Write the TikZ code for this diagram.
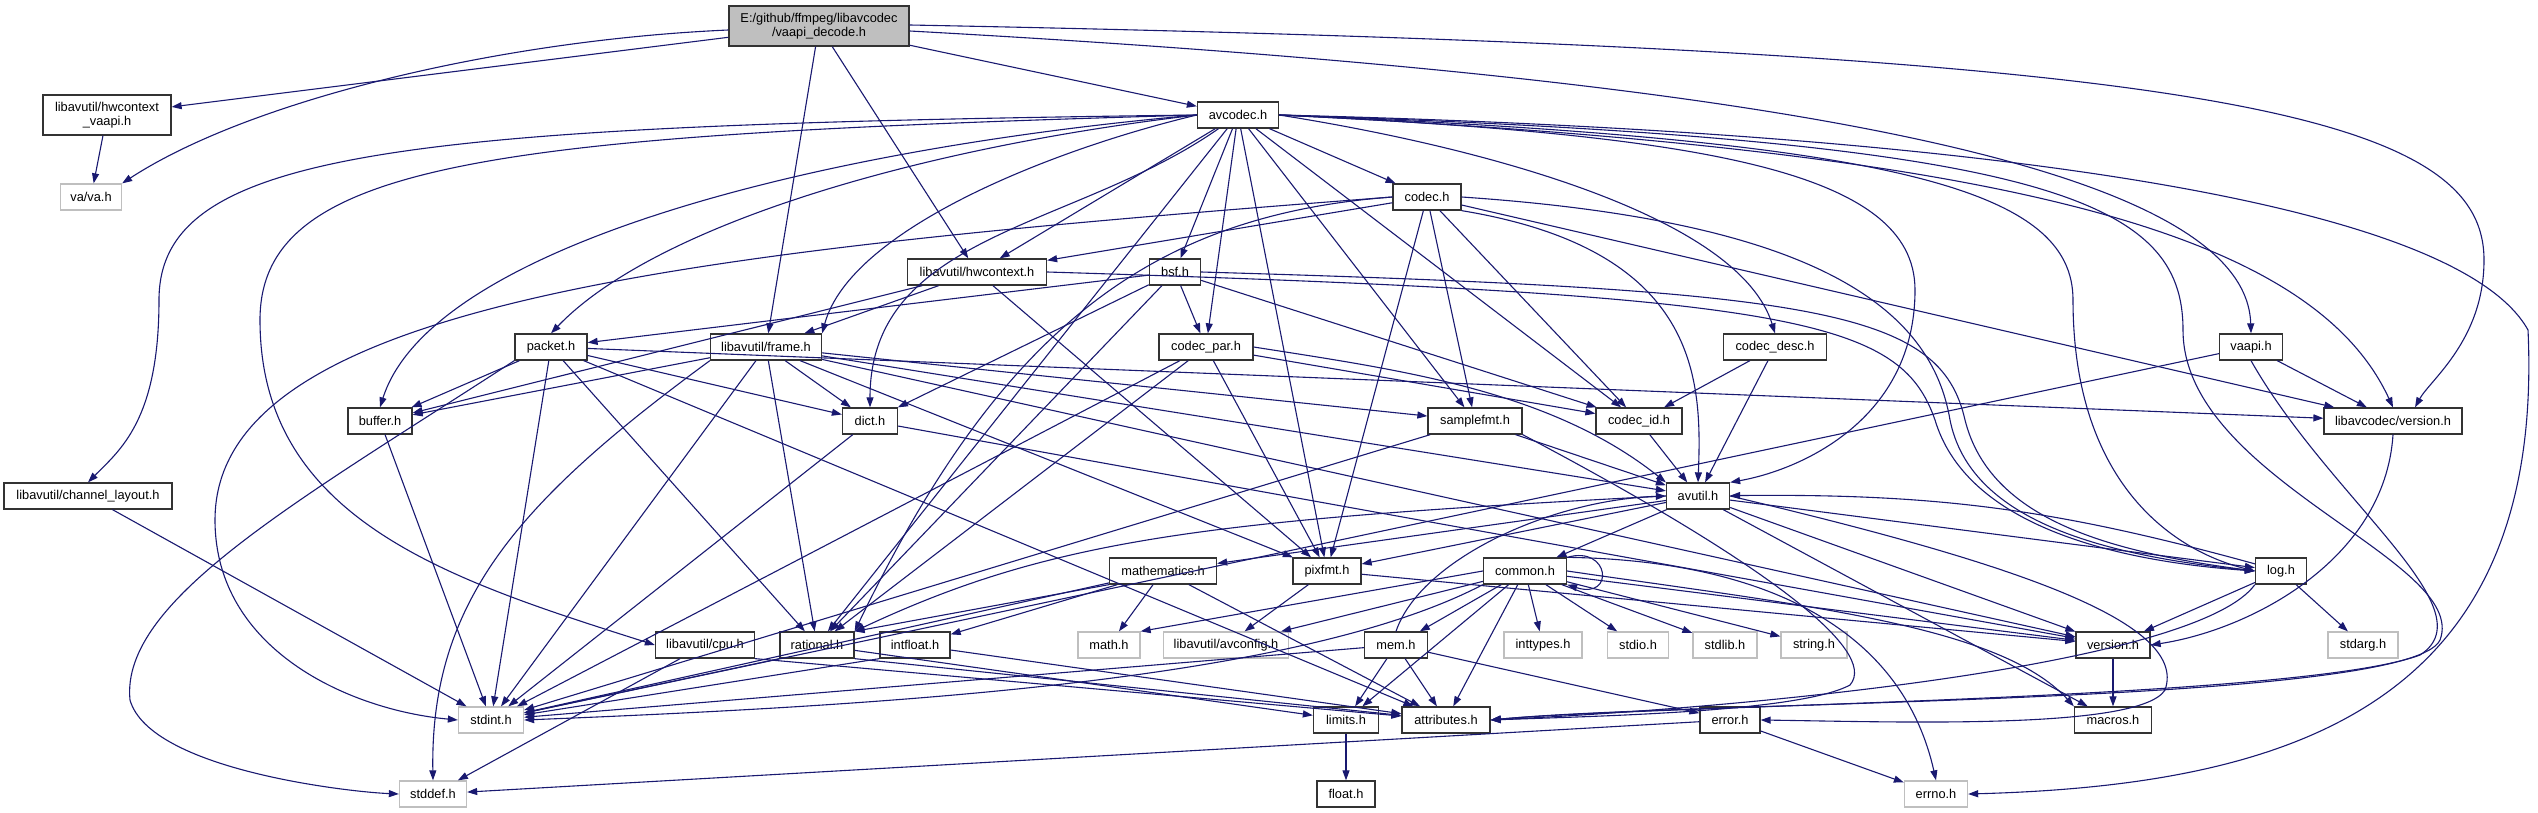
\documentclass[tikz,border=0pt]{standalone}
\usepackage{fontspec}
\setmainfont{Liberation Sans}
\usetikzlibrary{arrows.meta}
\definecolor{edgeblue}{HTML}{191970}
\definecolor{sysgray}{HTML}{BFBFBF}
\tikzset{
  hdrbox/.style={draw=black!80, line width=1.3pt, fill=white, inner sep=1pt,
    minimum height=26pt, font=\fontsize{12.8}{14.5}\selectfont},
  sysbox/.style={hdrbox, draw=sysgray},
  rootbox/.style={hdrbox, fill=sysgray, minimum height=40pt, align=center},
  dep/.style={edgeblue, line width=1.1pt, -{Triangle[length=10pt,width=7pt]}}
}
\begin{document}
\begin{tikzpicture}[x=1pt,y=-1pt]
\useasboundingbox (0,0) rectangle (2538,813);
% top rows
\node[rootbox, minimum width=180pt] (root) at (819,26) {E:/github/ffmpeg/libavcodec\\/vaapi\_decode.h};
\node[hdrbox, minimum width=128pt, minimum height=40pt, align=center] (hwvaapi) at (107,115) {libavutil/hwcontext\\\_vaapi.h};
\node[sysbox, minimum width=61pt] (vah) at (91,197) {va/va.h};
\node[hdrbox, minimum width=81pt] (avcodec) at (1238,115) {avcodec.h};
\node[hdrbox, minimum width=68pt] (codec) at (1427,197) {codec.h};
\node[hdrbox, minimum width=139pt] (hwctx) at (977,272) {libavutil/hwcontext.h};
\node[hdrbox, minimum width=51pt] (bsf) at (1175,272) {bsf.h};
\node[hdrbox, minimum width=72pt] (packet) at (551,347) {packet.h};
\node[hdrbox, minimum width=111pt] (frame) at (766,347) {libavutil/frame.h};
\node[hdrbox, minimum width=94pt] (codecpar) at (1206,347) {codec\_par.h};
\node[hdrbox, minimum width=103pt] (codecdesc) at (1775,347) {codec\_desc.h};
\node[hdrbox, minimum width=63pt] (vaapi) at (2251,347) {vaapi.h};
\node[hdrbox, minimum width=64pt] (buffer) at (380,421) {buffer.h};
\node[hdrbox, minimum width=55pt] (dict) at (870,421) {dict.h};
\node[hdrbox, minimum width=94pt] (samplefmt) at (1475,421) {samplefmt.h};
\node[hdrbox, minimum width=86pt] (codecid) at (1639,421) {codec\_id.h};
\node[hdrbox, minimum width=138pt] (lavcver) at (2393,421) {libavcodec/version.h};
\node[hdrbox, minimum width=168pt] (chlayout) at (88,496) {libavutil/channel\_layout.h};
\node[hdrbox, minimum width=63pt] (avutil) at (1698,496) {avutil.h};
% lower rows
\node[hdrbox, minimum width=107pt] (mathem) at (1163,571) {mathematics.h};
\node[hdrbox, minimum width=68pt] (pixfmt) at (1327,571) {pixfmt.h};
\node[hdrbox, minimum width=83pt] (common) at (1525,571) {common.h};
\node[hdrbox, minimum width=51pt] (logh) at (2281,571) {log.h};
\node[hdrbox, minimum width=99pt] (cpu) at (705,645) {libavutil/cpu.h};
\node[hdrbox, minimum width=74pt] (rational) at (817,645) {rational.h};
\node[hdrbox, minimum width=70pt] (intfloat) at (915,645) {intfloat.h};
\node[sysbox, minimum width=62pt] (mathh) at (1109,645) {math.h};
\node[sysbox, minimum width=125pt] (avconfig) at (1226,645) {libavutil/avconfig.h};
\node[hdrbox, minimum width=63pt] (mem) at (1396,645) {mem.h};
\node[sysbox, minimum width=78pt] (inttypes) at (1543,645) {inttypes.h};
\node[sysbox, minimum width=61pt] (stdioh) at (1638,645) {stdio.h};
\node[sysbox, minimum width=64pt] (stdlibh) at (1725,645) {stdlib.h};
\node[sysbox, minimum width=66pt] (stringh) at (1814,645) {string.h};
\node[hdrbox, minimum width=74pt] (version) at (2113,645) {version.h};
\node[sysbox, minimum width=70pt] (stdarg) at (2363,645) {stdarg.h};
\node[sysbox, minimum width=65pt] (stdint) at (491,720) {stdint.h};
\node[hdrbox, minimum width=65pt] (limits) at (1346,720) {limits.h};
\node[hdrbox, minimum width=88pt] (attributes) at (1446,720) {attributes.h};
\node[hdrbox, minimum width=60pt] (errorh) at (1730,720) {error.h};
\node[hdrbox, minimum width=77pt] (macros) at (2113,720) {macros.h};
\node[sysbox, minimum width=67pt] (stddef) at (433,794) {stddef.h};
\node[hdrbox, minimum width=58pt] (floath) at (1346,794) {float.h};
\node[sysbox, minimum width=63pt] (errno) at (1936,794) {errno.h};
% straight includes
\foreach \a/\b in {root/hwvaapi, root/frame, root/hwctx, root/avcodec, hwvaapi/vah,
  avcodec/samplefmt, avcodec/hwctx, avcodec/pixfmt, avcodec/rational, avcodec/bsf,
  avcodec/codec, avcodec/codecpar, avcodec/codecid,
  codec/hwctx, codec/pixfmt, codec/samplefmt, codec/codecid, codec/lavcver,
  bsf/packet, bsf/dict, bsf/rational, bsf/codecid, bsf/codecpar,
  codecpar/stdint, codecpar/rational, codecpar/pixfmt, codecpar/codecid,
  codecdesc/avutil, codecdesc/codecid, codecid/avutil,
  packet/buffer, packet/stdint, packet/attributes, packet/dict, packet/rational, packet/lavcver,
  vaapi/lavcver, vaapi/stdint,
  hwctx/buffer, hwctx/frame, hwctx/pixfmt,
  frame/stdint, frame/avutil, frame/buffer, frame/dict, frame/rational, frame/samplefmt,
  frame/pixfmt, frame/version,
  buffer/stdint, dict/stdint, dict/version, samplefmt/stdint, samplefmt/avutil, chlayout/stdint,
  cpu/stddef, cpu.south east/attributes,
  rational.south west/stdint, rational/limits, rational.south east/attributes,
  avutil/common, avutil/version, avutil/macros, avutil/mathem, avutil/logh, avutil/pixfmt,
  mathem/stdint, mathem/mathh, mathem/attributes, mathem.south west/rational.north east, mathem/intfloat,
  intfloat.south west/stdint, intfloat/attributes,
  pixfmt/avconfig, pixfmt/version,
  common/inttypes, common/limits, common.west/mathh.north east, common/stdioh, common/stdlibh,
  common/stringh, common/attributes, common/version, common/avconfig, common/mem,
  mem/limits, mem/stdint, mem/attributes, mem/errorh,
  logh/stdarg, logh/version, version/macros, errorh/errno, errorh/stddef, limits/floath}
  \draw[dep] (\a) -- (\b);
% routed includes
\draw[dep] ([yshift=-4pt]root.west) .. controls (500,40) and (250,100) .. (vah.north east);
\draw[dep] ([yshift=-5pt]root.east) .. controls (1800,80) and (2246,170) .. (vaapi.north);
\draw[dep] ([yshift=1pt]root.east) .. controls (2200,50) and (2484,110) .. (2484,260)
  .. controls (2484,340) and (2430,380) .. ([xshift=22pt]lavcver.north);
\draw[dep] (avcodec.east) .. controls (1900,130) and (2450,190) .. (2528,330)
  .. controls (2545,700) and (2300,785) .. (errno.east);
\draw[dep] (avcodec.east) .. controls (1700,135) and (1915,170) .. (1915,290)
  .. controls (1915,420) and (1800,470) .. (avutil.north east);
\draw[dep] (avcodec.east) .. controls (1900,140) and (2073,190) .. (2073,300)
  .. controls (2073,480) and (2170,550) .. (logh.west);
\draw[dep] (avcodec.east) .. controls (2050,140) and (2183,200) .. (2183,330)
  .. controls (2183,480) and (2470,560) .. (2440,640) .. controls (2410,705) and (1700,700) .. (attributes.east);
\draw[dep] (avcodec.east) .. controls (2000,150) and (2311,230) .. (lavcver.north);
\draw[dep] (avcodec.east) .. controls (1500,150) and (1740,220) .. (codecdesc.north);
\draw[dep] (avcodec.west) .. controls (400,125) and (159,150) .. (159,300)
  .. controls (159,420) and (120,450) .. (chlayout.north);
\draw[dep] (avcodec.west) .. controls (500,135) and (260,160) .. (260,320)
  .. controls (260,520) and (450,580) .. (cpu.west);
\draw[dep] (avcodec.west) .. controls (800,150) and (430,250) .. (buffer.north);
\draw[dep] (avcodec.west) .. controls (900,150) and (650,230) .. (packet.north);
\draw[dep] (avcodec.west) .. controls (1050,150) and (850,230) .. (frame.north east);
\draw[dep] (avcodec) to[out=215,in=90] (dict);
\draw[dep] (codec.west) .. controls (700,250) and (215,300) .. (215,520)
  .. controls (215,650) and (350,710) .. (stdint.west);
\draw[dep] (codec.west) .. controls (1150,215) and (1000,330) .. (rational.north east);
\draw[dep] (codec.south east) .. controls (1700,250) and (1702,380) .. (avutil.north);
\draw[dep] (codec.east) .. controls (1800,220) and (1930,300) .. (1950,420)
  .. controls (1970,520) and (2100,555) .. (logh.west);
\draw[dep] (hwctx.east) .. controls (1800,295) and (1900,320) .. (1935,420)
  .. controls (1965,520) and (2100,560) .. (logh.west);
\draw[dep] (bsf.east) .. controls (1820,290) and (1940,310) .. (1965,420)
  .. controls (1990,520) and (2110,552) .. (logh.west);
\draw[dep] (codecpar.east) .. controls (1400,370) and (1550,390) .. (avutil.north west);
\draw[dep] (vaapi.south) .. controls (2330,500) and (2490,610) .. (2420,655)
  .. controls (2300,700) and (1650,705) .. (attributes.east);
\draw[dep] (logh.south west) .. controls (2200,660) and (1800,705) .. (attributes.east);
\draw[dep] (samplefmt.south east) .. controls (1760,560) and (1880,650) .. (1850,685)
  .. controls (1800,712) and (1600,716) .. (attributes.east);
\draw[dep] (avutil.east) .. controls (2000,560) and (2190,620) .. (2165,690)
  .. controls (2140,730) and (1900,722) .. (errorh.east);
\draw[dep] (lavcver.south) .. controls (2385,560) and (2250,630) .. (version.east);
\draw[dep] (frame.south west) .. controls (520,500) and (430,600) .. (stddef.north);
\draw[dep] (packet.south west) .. controls (300,500) and (120,600) .. (130,700)
  .. controls (150,770) and (350,792) .. (stddef.west);
\draw[dep] (common.north east) .. controls (1610,545) and (1615,600) .. (common.south east);
\draw[dep] (common.south west) .. controls (1300,680) and (900,705) .. (stdint.east);
\draw[dep] (mem.north) .. controls (1420,560) and (1550,500) .. (avutil.west);
\draw[dep] (common.north east) .. controls (1750,560) and (1900,620) .. (errno.north);
\draw[dep] (common.east) .. controls (1800,605) and (2000,625) .. (macros.north west);
\draw[dep] (avutil.west) .. controls (1200,520) and (1050,540) .. (rational.north east);
\draw[dep] (logh) to[bend right=8] (avutil);
\end{tikzpicture}
\end{document}
